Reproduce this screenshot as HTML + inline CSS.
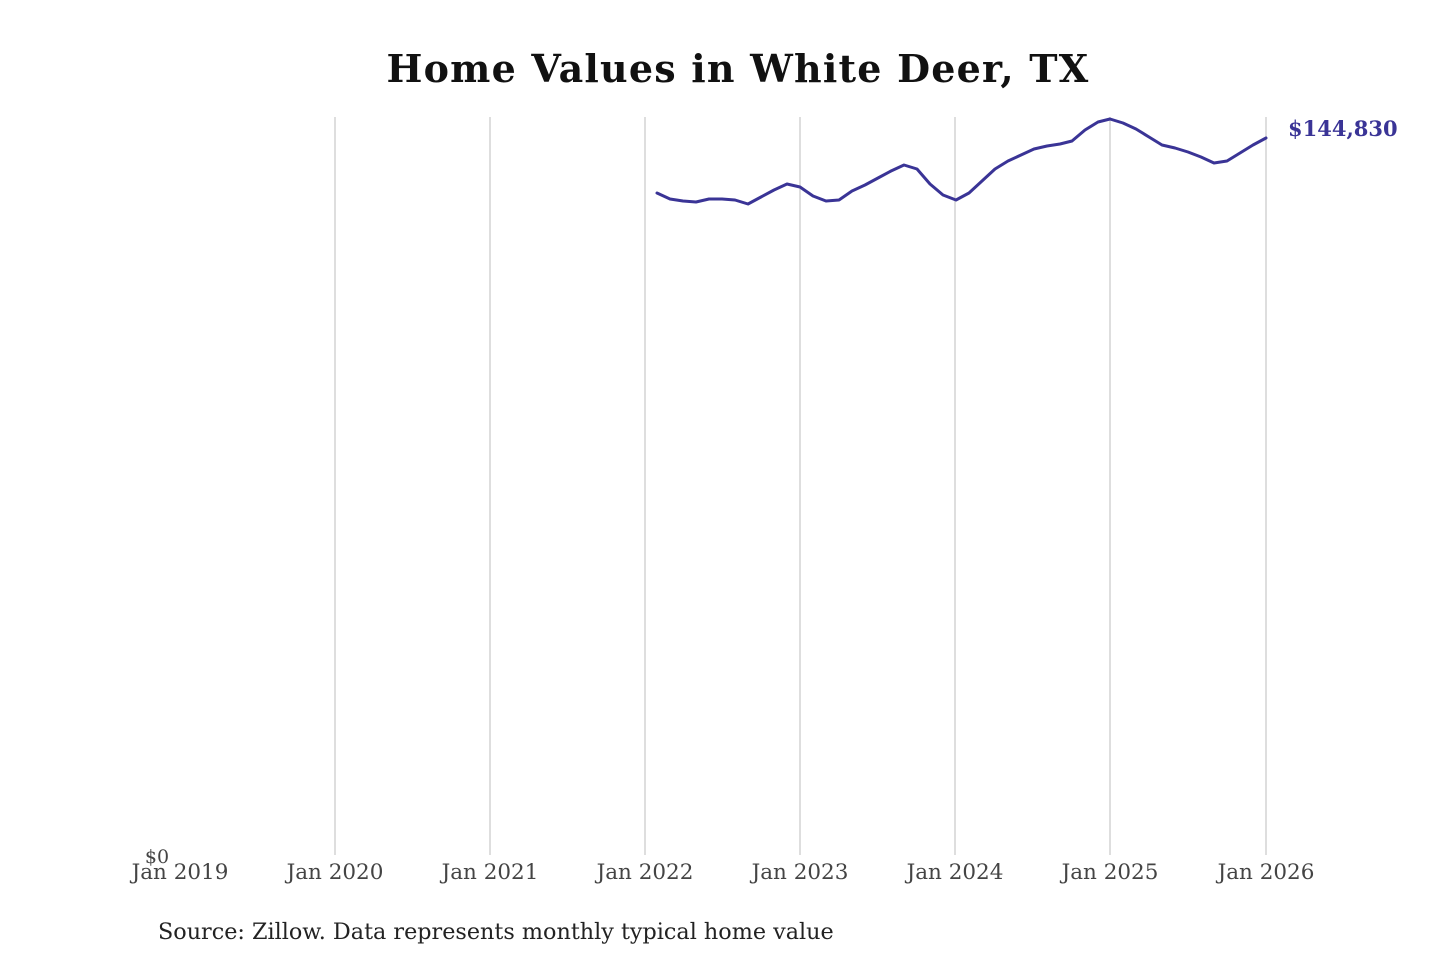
<!DOCTYPE html>
<html><head><meta charset="utf-8"><style>
html,body{margin:0;padding:0;background:#fff;width:1440px;height:960px;overflow:hidden}
</style></head><body>
<svg width="1440" height="960" viewBox="0 0 1440 960" xmlns="http://www.w3.org/2000/svg" style="font-family:'DejaVu Serif','Liberation Serif',serif">
<text x="738" y="82" text-anchor="middle" font-size="38" font-weight="bold" letter-spacing="1.2" fill="#111">Home Values in White Deer, TX</text>
<g stroke="#c8c8c8" stroke-width="1.2">
<line x1="335" y1="117" x2="335" y2="855"/>
<line x1="490" y1="117" x2="490" y2="855"/>
<line x1="645" y1="117" x2="645" y2="855"/>
<line x1="800" y1="117" x2="800" y2="855"/>
<line x1="955" y1="117" x2="955" y2="855"/>
<line x1="1110" y1="117" x2="1110" y2="855"/>
<line x1="1266" y1="117" x2="1266" y2="855"/>
</g>
<polyline fill="none" stroke="#3a3496" stroke-width="3" stroke-linejoin="round" stroke-linecap="round" points="657,193 670,199 683,201 696,202 709,199 722,199 735,200 748,204 761,197 774,190 787,184 800,187 813,196 826,201 839,200 852,191 865,185 878,178 891,171 904,165 917,169 930,184 943,195 956,200 969,193 982,181 995,169 1008,161 1021,155 1034,149 1047,146 1060,144 1072,141 1085,130 1098,122 1110,119 1123,123 1136,129 1149,137 1162,145 1175,148 1188,152 1201,157 1214,163 1227,161 1240,153 1253,145 1266,138"/>
<text x="1288" y="136" font-size="21" font-weight="bold" fill="#3a3496">$144,830</text>
<text x="157" y="863" text-anchor="middle" font-size="19" fill="#444">$0</text>
<g font-size="21.5" fill="#444" text-anchor="middle">
<text x="180" y="879">Jan 2019</text>
<text x="335" y="879">Jan 2020</text>
<text x="490" y="879">Jan 2021</text>
<text x="645" y="879">Jan 2022</text>
<text x="800" y="879">Jan 2023</text>
<text x="955" y="879">Jan 2024</text>
<text x="1110" y="879">Jan 2025</text>
<text x="1266" y="879">Jan 2026</text>
</g>
<text x="158" y="939" font-size="22.3" fill="#222">Source: Zillow. Data represents monthly typical home value</text>
</svg>
</body></html>
